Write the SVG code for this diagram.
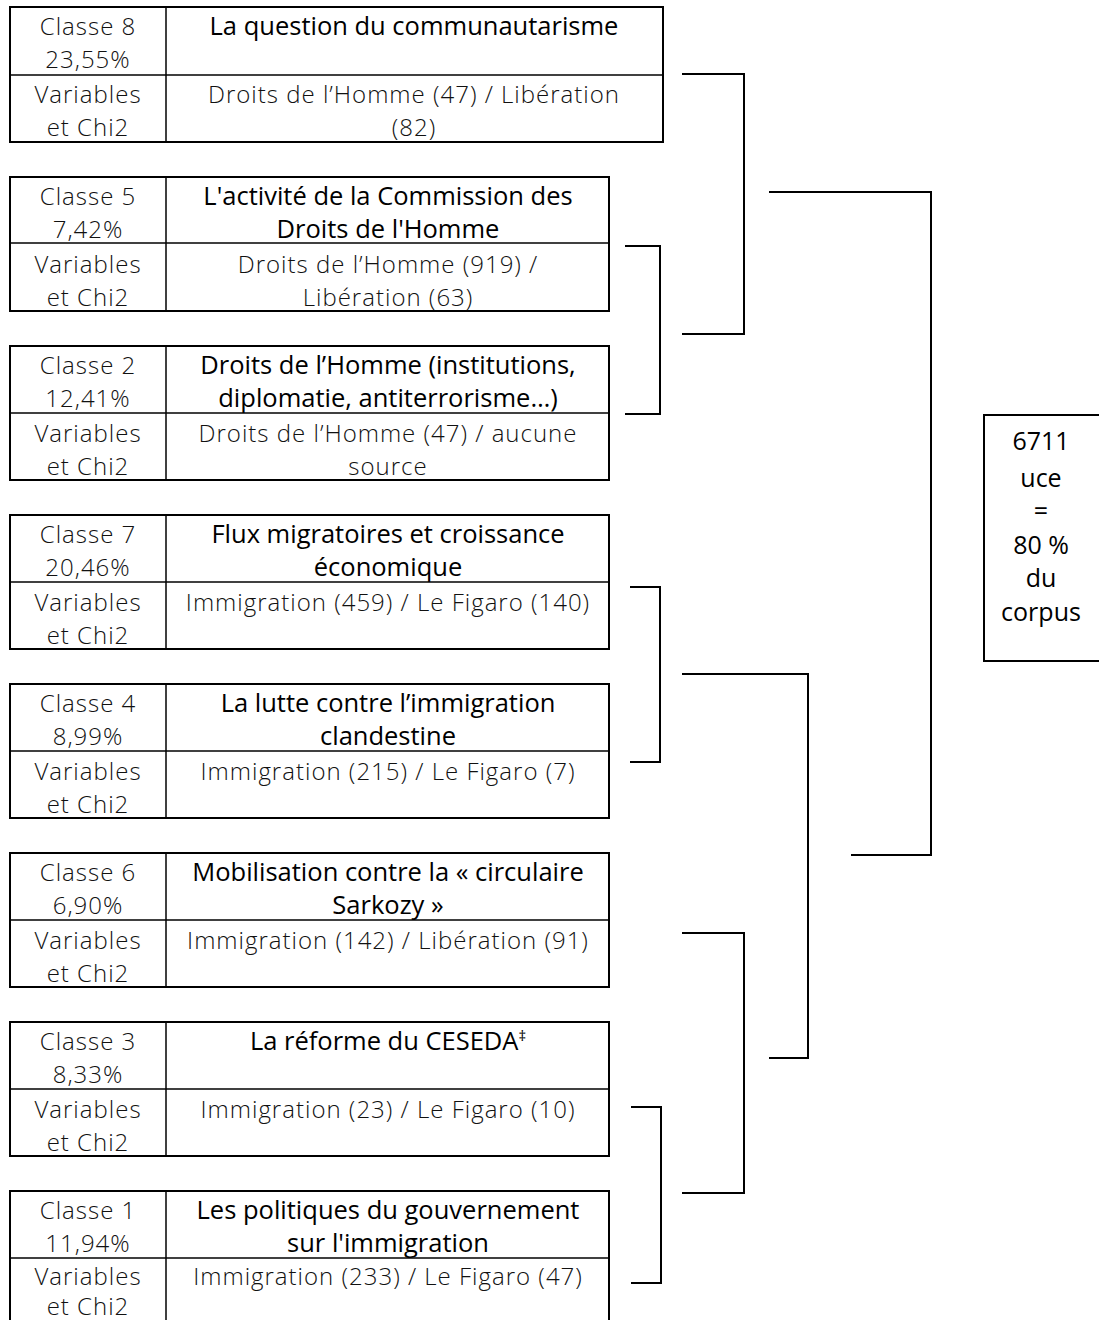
<svg xmlns="http://www.w3.org/2000/svg" width="1099" height="1320" viewBox="0 0 1099 1320">
<style>
.frame{fill:none;stroke:#000;stroke-width:2}
.div{stroke:#000;stroke-width:1.5}
.b{font-family:"Open Sans","Noto Sans",sans-serif;font-size:24px;font-weight:350;letter-spacing:1px;fill:#111;text-anchor:middle}
.t{font-family:"Open Sans","Noto Sans",sans-serif;font-size:25.5px;font-weight:500;fill:#000;text-anchor:middle}
.tot{font-family:"Open Sans","Noto Sans",sans-serif;font-size:25px;font-weight:500;fill:#000;text-anchor:middle}
.con{fill:none;stroke:#000;stroke-width:2}
</style>
<rect width="1099" height="1320" fill="#fff"/>

<g id="classe8">
<rect class="frame" x="10" y="7" width="653" height="135"/>
<line class="div" x1="166" y1="7" x2="166" y2="142"/>
<line class="div" x1="10" y1="75" x2="663" y2="75"/>
<text class="b" x="88" y="35">Classe 8</text>
<text class="b" x="88" y="68">23,55%</text>
<text class="t" x="414" y="35">La question du communautarisme</text>
<text class="b" x="88" y="103">Variables</text>
<text class="b" x="88" y="136">et Chi2</text>
<text class="b" x="414" y="103">Droits de l’Homme (47) / Libération</text>
<text class="b" x="414" y="136">(82)</text>
</g>

<g id="classe5">
<rect class="frame" x="10" y="177" width="599" height="134"/>
<line class="div" x1="166" y1="177" x2="166" y2="311"/>
<line class="div" x1="10" y1="243" x2="609" y2="243"/>
<text class="b" x="88" y="205">Classe 5</text>
<text class="b" x="88" y="238">7,42%</text>
<text class="t" x="388" y="205">L'activité de la Commission des</text>
<text class="t" x="388" y="238">Droits de l'Homme</text>
<text class="b" x="88" y="273">Variables</text>
<text class="b" x="88" y="306">et Chi2</text>
<text class="b" x="388" y="273">Droits de l’Homme (919) /</text>
<text class="b" x="388" y="306">Libération (63)</text>
</g>

<g id="classe2">
<rect class="frame" x="10" y="346" width="599" height="134"/>
<line class="div" x1="166" y1="346" x2="166" y2="480"/>
<line class="div" x1="10" y1="413" x2="609" y2="413"/>
<text class="b" x="88" y="374">Classe 2</text>
<text class="b" x="88" y="407">12,41%</text>
<text class="t" x="388" y="374">Droits de l’Homme (institutions,</text>
<text class="t" x="388" y="407">diplomatie, antiterrorisme…)</text>
<text class="b" x="88" y="442">Variables</text>
<text class="b" x="88" y="475">et Chi2</text>
<text class="b" x="388" y="442">Droits de l’Homme (47) / aucune</text>
<text class="b" x="388" y="475">source</text>
</g>

<g id="classe7">
<rect class="frame" x="10" y="515" width="599" height="134"/>
<line class="div" x1="166" y1="515" x2="166" y2="649"/>
<line class="div" x1="10" y1="582" x2="609" y2="582"/>
<text class="b" x="88" y="543">Classe 7</text>
<text class="b" x="88" y="576">20,46%</text>
<text class="t" x="388" y="543">Flux migratoires et croissance</text>
<text class="t" x="388" y="576">économique</text>
<text class="b" x="88" y="611">Variables</text>
<text class="b" x="88" y="644">et Chi2</text>
<text class="b" x="388" y="611">Immigration (459) / Le Figaro (140)</text>
</g>

<g id="classe4">
<rect class="frame" x="10" y="684" width="599" height="134"/>
<line class="div" x1="166" y1="684" x2="166" y2="818"/>
<line class="div" x1="10" y1="751" x2="609" y2="751"/>
<text class="b" x="88" y="712">Classe 4</text>
<text class="b" x="88" y="745">8,99%</text>
<text class="t" x="388" y="712">La lutte contre l’immigration</text>
<text class="t" x="388" y="745">clandestine</text>
<text class="b" x="88" y="780">Variables</text>
<text class="b" x="88" y="813">et Chi2</text>
<text class="b" x="388" y="780">Immigration (215) / Le Figaro (7)</text>
</g>

<g id="classe6">
<rect class="frame" x="10" y="853" width="599" height="134"/>
<line class="div" x1="166" y1="853" x2="166" y2="987"/>
<line class="div" x1="10" y1="920" x2="609" y2="920"/>
<text class="b" x="88" y="881">Classe 6</text>
<text class="b" x="88" y="914">6,90%</text>
<text class="t" x="388" y="881">Mobilisation contre la « circulaire</text>
<text class="t" x="388" y="914">Sarkozy »</text>
<text class="b" x="88" y="949">Variables</text>
<text class="b" x="88" y="982">et Chi2</text>
<text class="b" x="388" y="949">Immigration (142) / Libération (91)</text>
</g>

<g id="classe3">
<rect class="frame" x="10" y="1022" width="599" height="134"/>
<line class="div" x1="166" y1="1022" x2="166" y2="1156"/>
<line class="div" x1="10" y1="1089" x2="609" y2="1089"/>
<text class="b" x="88" y="1050">Classe 3</text>
<text class="b" x="88" y="1083">8,33%</text>
<text class="t" x="388" y="1050">La réforme du CESEDA<tspan font-size="15" dy="-9">‡</tspan></text>
<text class="b" x="88" y="1118">Variables</text>
<text class="b" x="88" y="1151">et Chi2</text>
<text class="b" x="388" y="1118">Immigration (23) / Le Figaro (10)</text>
</g>

<g id="classe1">
<rect class="frame" x="10" y="1191" width="599" height="140"/>
<line class="div" x1="166" y1="1191" x2="166" y2="1331"/>
<line class="div" x1="10" y1="1258" x2="609" y2="1258"/>
<text class="b" x="88" y="1219">Classe 1</text>
<text class="b" x="88" y="1252">11,94%</text>
<text class="t" x="388" y="1219">Les politiques du gouvernement</text>
<text class="t" x="388" y="1252">sur l'immigration</text>
<text class="b" x="88" y="1285">Variables</text>
<text class="b" x="88" y="1315">et Chi2</text>
<text class="b" x="388" y="1285">Immigration (233) / Le Figaro (47)</text>
</g>

<g id="total">
<rect class="frame" x="984" y="415" width="130" height="246"/>
<text class="tot" x="1041" y="450">6711</text>
<text class="tot" x="1041" y="487">uce</text>
<text class="tot" x="1041" y="520">=</text>
<text class="tot" x="1041" y="554">80 %</text>
<text class="tot" x="1041" y="587">du</text>
<text class="tot" x="1041" y="621">corpus</text>
</g>

<g id="connectors">
<path class="con" d="M625,246 H660 V414 H625"/>
<path class="con" d="M682,74 H744 V334 H682"/>
<path class="con" d="M769,192 H931 V855 H851"/>
<path class="con" d="M630,587 H660 V762 H630"/>
<path class="con" d="M682,674 H808 V1058 H769"/>
<path class="con" d="M682,933 H744 V1193 H682"/>
<path class="con" d="M631,1107 H661 V1283 H631"/>
</g>
</svg>
